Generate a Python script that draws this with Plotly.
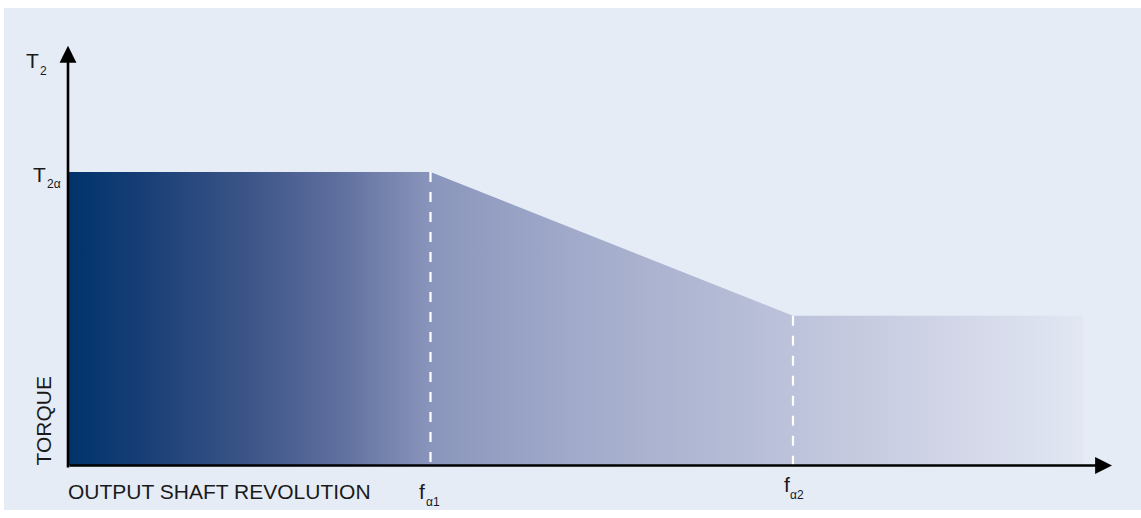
import plotly.graph_objects as go

# ---- data (arbitrary units) ----
speed_points = [0, 1000, 2000, 2800]        # output shaft revolution breakpoints
torque_points = [100, 100, 51, 51]          # torque curve T2 at those speeds
f_alpha1 = 1000
f_alpha2 = 2000
x_axis_end = 2880
y_axis_end = 143

# ---- pixel helpers for layout placement ----
W, H = 1141, 518
ML, MR, MT, MB = 4, 0, 8, 8
PW, PH = W - ML - MR, H - MT - MB

def px(xp):
    return (xp - ML) / PW

def py(yp):
    return (H - MB - yp) / PH

fig = go.Figure()

# gradient filled region
xs = speed_points + [speed_points[-1], speed_points[0]]
ys = torque_points + [0, 0]
fig.add_trace(go.Scatter(
    x=xs, y=ys, mode="lines", fill="toself", line=dict(width=0),
    fillgradient=dict(type="horizontal", colorscale=[
        [0.0, "#00336b"], [0.08, "#1a3f77"], [0.18, "#3d5588"],
        [0.27, "#60709f"], [0.36, "#8b96bc"], [0.5, "#a1aaca"],
        [0.71, "#bcc2da"], [0.86, "#d0d4e6"], [1.0, "#e2e7f3"]]),
    hoverinfo="skip", showlegend=False))

# dashed markers at f_alpha1 and f_alpha2
for f in (f_alpha1, f_alpha2):
    t = torque_points[speed_points.index(f)]
    fig.add_trace(go.Scatter(
        x=[f, f], y=[t, 0], mode="lines",
        line=dict(color="white", width=2.2, dash="10px,10px"),
        hoverinfo="skip", showlegend=False))

ann = []
# axes with arrows
ann.append(dict(x=x_axis_end, y=0, ax=0, ay=0, xref="x", yref="y", axref="x", ayref="y",
                text="", showarrow=True, arrowhead=2, arrowsize=1.3, arrowwidth=2.6,
                arrowcolor="black"))
ann.append(dict(x=0, y=y_axis_end, ax=0, ay=-1.2, xref="x", yref="y", axref="x", ayref="y",
                text="", showarrow=True, arrowhead=2, arrowsize=1.3, arrowwidth=2.6,
                arrowcolor="black"))

FONT = "Liberation Sans, Arial, sans-serif"
TC = "#1a1a1a"

def label(text, xp, yp, size, xanchor="left", angle=0):
    ann.append(dict(x=px(xp), y=py(yp), xref="paper", yref="paper", text=text,
                    showarrow=False, xanchor=xanchor, yanchor="middle",
                    textangle=angle, font=dict(family=FONT, size=size, color=TC)))

label("T", 24, 60, 21)
label("2", 38, 71, 12)
label("T", 31, 174, 21)
label("2α", 45, 184, 12)
label("TORQUE", 43, 421.5, 21, xanchor="center", angle=-90)
label("OUTPUT SHAFT REVOLUTION", 66, 491, 21)
label("f", 417, 491, 21)
label("α1", 424, 502, 12)
label("f", 782, 484, 21)
label("α2", 788, 495, 12)

fig.update_layout(
    width=W, height=H,
    margin=dict(l=ML, r=MR, t=MT, b=MB, pad=0),
    paper_bgcolor="white", plot_bgcolor="#e5ecf6",
    xaxis=dict(range=[(ML - 68) / 0.3625, (W - MR - 68) / 0.3625], visible=False, fixedrange=True),
    yaxis=dict(range=[-(H - MB - 465.5) / 2.935, (465.5 - MT) / 2.935], visible=False, fixedrange=True),
    annotations=ann,
    showlegend=False,
)

fig.write_html("out.html", config={"displayModeBar": False},
               post_script="document.body.style.margin='0';document.body.style.padding='0';")
